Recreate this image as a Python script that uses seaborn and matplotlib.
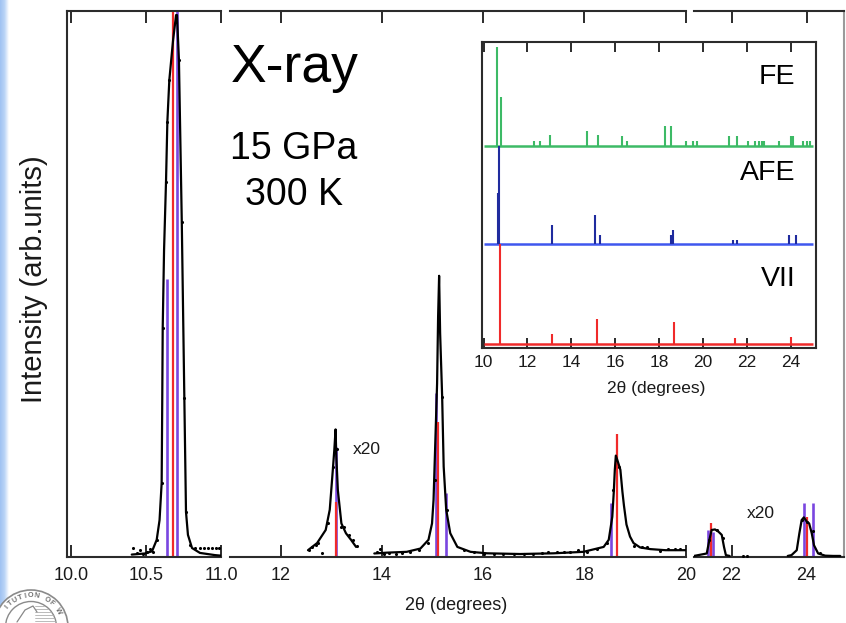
import matplotlib
matplotlib.use("Agg")
import matplotlib.pyplot as plt
import numpy as np
import pandas as pd
import seaborn as sns
from matplotlib.patches import Circle

# ---------------- measured pattern (main broken axis), intensity in arb. units ----------------
# fitted profile, one list pair per continuous segment
P1_FIT_X = [10.406, 10.494, 10.541, 10.572, 10.591, 10.605, 10.609, 10.612, 10.621, 10.634,
            10.643, 10.656, 10.681, 10.701, 10.707, 10.720, 10.739, 10.756, 10.767, 10.780,
            10.807, 10.860, 10.960, 11.0]
P1_FIT_Y = [0.5, 0.7, 1.1, 3.2, 6.8, 13.6, 28.8, 41.9, 56.2, 68.7,
            79.7, 87.3, 94.6, 99.2, 99.2, 91.0, 61.3, 29.1, 8.3, 4.1,
            1.7, 0.8, 0.4, 0.3]

P2A_FIT_X = [12.54, 12.72, 12.89, 12.97, 13.02, 13.06, 13.085, 13.10, 13.13, 13.20, 13.29, 13.39, 13.49]
P2A_FIT_Y = [1.3, 2.6, 5.0, 8.7, 14.7, 19.6, 23.4, 18.4, 12.3, 6.2, 4.4, 3.2, 1.9]

P2B_FIT_X = [13.85, 14.10, 14.49, 14.76, 14.92, 14.99, 15.02, 15.05, 15.09, 15.11, 15.13, 15.15,
             15.19, 15.22, 15.27, 15.35, 15.49, 15.75, 16.08, 16.73, 17.39, 17.98, 18.38, 18.48,
             18.55, 18.58, 18.60, 18.62, 18.66, 18.71, 18.75, 18.78, 18.83, 18.90, 18.97, 19.10,
             19.30, 19.60, 20.0]
P2B_FIT_Y = [0.7, 0.85, 1.0, 1.6, 3.2, 6.2, 10.5, 19.6, 31.8, 44.0, 51.5, 41.0,
             29.4, 16.6, 8.7, 4.4, 1.9, 1.0, 0.73, 0.6, 0.73, 1.0, 1.9, 3.2,
             7.4, 12.0, 16.0, 18.6, 17.5, 16.0, 12.0, 9.5, 6.0, 3.8, 2.6, 1.8,
             1.5, 1.3, 1.3]

P3A_FIT_X = [21.0, 21.34, 21.41, 21.47, 21.56, 21.65, 21.74, 21.80, 21.85, 21.95]
P3A_FIT_Y = [0.25, 0.7, 3.2, 5.0, 5.1, 4.7, 4.1, 1.9, 0.4, 0.25]

P3B_FIT_X = [23.5, 23.6, 23.74, 23.81, 23.87, 23.93, 24.01, 24.07, 24.14, 24.20, 24.31, 24.5, 24.71, 24.9]
P3B_FIT_Y = [0.25, 0.4, 1.3, 4.4, 6.8, 7.3, 6.5, 6.2, 4.4, 2.2, 0.7, 0.3, 0.25, 0.25]

# measured points
DOT_X = [10.415, 10.439, 10.461, 10.481, 10.508, 10.528, 10.548, 10.574,
         10.605, 10.612, 10.634, 10.643, 10.656, 10.700, 10.720, 10.739, 10.756, 10.767,
         10.794, 10.827, 10.860, 10.887, 10.913, 10.940, 10.967, 10.987,
         12.56, 12.62, 12.69, 12.74, 12.82, 12.93, 13.03, 13.11, 13.19, 13.26, 13.35, 13.43, 13.50,
         13.91, 13.97, 14.04, 14.14, 14.27, 14.40, 14.56, 14.73, 14.92, 15.04, 15.19, 15.29,
         15.62, 15.81, 16.01, 16.21, 16.40, 16.60, 16.80, 16.99, 17.16, 17.29, 17.46, 17.59,
         17.72, 17.88, 18.05, 18.25, 18.45, 18.56, 18.69, 18.97, 19.13, 19.23, 19.49, 19.66,
         19.79, 19.88,
         21.41, 21.61, 21.76, 22.30, 22.40, 23.87, 24.01, 24.16, 24.35]
DOT_Y = [1.65, 0.8, 1.3, 0.6, 1.0, 1.5, 1.0, 3.2,
         13.6, 41.9, 68.7, 79.7, 87.3, 98.0, 91.0, 61.3, 29.1, 8.3,
         2.25, 1.65, 1.65, 1.65, 1.65, 1.65, 1.65, 1.65,
         1.34, 1.94, 2.25, 2.67, 0.73, 6.2, 16.6, 19.9, 5.6, 5.5, 4.1, 3.2, 2.1,
         1.0, 1.6, 0.6, 0.7, 0.6, 0.73, 1.0, 1.3, 2.6, 14.1, 29.4, 8.7,
         1.34, 1.0, 0.6, 0.6, 0.6, 0.6, 0.6, 0.6, 0.73, 1.0, 1.0, 1.0,
         1.0, 1.34, 1.0, 1.6, 2.6, 12.3, 16.6, 2.0, 1.9, 1.9, 1.2, 1.5,
         1.5, 1.5,
         3.2, 5.0, 3.5, 0.3, 0.3, 6.8, 6.5, 4.8, 0.7]

# calculated reflections drawn over the pattern
VII_POS = [10.679, 13.09, 15.10, 18.64, 21.45, 24.01]
VII_H = [100, 10.2, 24.8, 22.5, 6.3, 7.4]
AFE_POS = [10.639, 10.709, 13.10, 15.06, 15.26, 18.53, 21.38, 21.50, 23.93, 24.18]
AFE_H = [51, 100, 20.2, 30.0, 11.7, 9.9, 5.0, 4.7, 9.9, 9.9]

# ---------------- inset: calculated stick patterns ----------------
INSET_FE_POS = [10.60, 10.78, 12.30, 12.58, 13.03, 14.73, 15.20, 16.33, 16.53, 18.27, 18.53,
                19.23, 19.56, 19.75, 21.20, 21.54, 22.04, 22.37, 22.53, 22.68, 22.79, 23.48,
                24.02, 24.09, 24.58, 24.73, 24.88]
INSET_FE_H = [99, 49, 5, 5, 11, 15, 11, 10, 5, 20, 20,
              5, 5, 5, 10, 10, 5, 5, 5, 5, 5, 5,
              10, 10, 5, 5, 5]
INSET_AFE_POS = [10.66, 10.70, 13.14, 15.10, 15.30, 18.53, 18.65, 21.39, 21.54, 23.94, 24.23]
INSET_AFE_H = [51, 98, 19, 29, 9, 9, 14, 4, 4, 9, 9]
INSET_VII_POS = [10.74, 13.11, 15.16, 18.68, 21.46, 24.02]
INSET_VII_H = [100, 9.7, 24.7, 21.7, 6.3, 7.3]

PHASES = ["FE", "AFE", "VII"]
INSET_TICKS = [10, 12, 14, 16, 18, 20, 22, 24]

PANEL_TICKS = [[10.0, 10.5, 11.0], [12, 14, 16, 18, 20], [22, 24]]
PANEL_TICK_LABELS = [["10.0", "10.5", "11.0"], ["12", "14", "16", "18", "20"], ["22", "24"]]

# ---------------- styling ----------------
sns.set_theme(style="white")
plt.rcParams["font.family"] = ["Liberation Sans", "DejaVu Sans"]

W, H = 846, 623
INK = "#2b2b2b"
RED = "#f02a2a"
VIOLET = "#7a46e0"
GREEN = "#3dba66"
BLUE_LINE = "#3f57ee"
BLUE_STICK = "#1f2b9e"


def box(l, t, r, b):
    return [l / W, 1 - b / H, (r - l) / W, (b - t) / H]


def fx(px):
    return px / W


def fy(py):
    return 1 - py / H


fig = plt.figure(figsize=(W / 100, H / 100), dpi=100)
fig.patch.set_facecolor("white")

# background layer: light-blue edge strip and seal
bg = fig.add_axes([0, 0, 1, 1], zorder=-5)
bg.set_xlim(0, W)
bg.set_ylim(H, 0)
bg.axis("off")
strip = np.linspace(0, 1, 64)[None, :]
cmap = matplotlib.colors.LinearSegmentedColormap.from_list(
    "edge", ["#9fc2f2", "#b9d3f6", "#ffffff"])
bg.imshow(strip, extent=[0, 9, H, 0], cmap=cmap, aspect="auto", interpolation="bilinear")

cx, cy = 31, 627
bg.add_patch(Circle((cx, cy), 37, facecolor="white", edgecolor="#8a8a8a", lw=1.2, zorder=3))
bg.add_patch(Circle((cx, cy), 25.5, facecolor="white", edgecolor="#8a8a8a", lw=1.0, zorder=3))
for yy in np.arange(606, 626, 3):
    half = np.sqrt(max(25.5 ** 2 - (yy - cy) ** 2, 0))
    bg.plot([cx + 4, cx + half - 1], [yy, yy], color="#b0b0b0", lw=0.6, zorder=4)
bg.plot([cx - 14, cx - 6, cx + 2, cx + 6], [622, 610, 606, 612], color="#888888", lw=0.9, zorder=4)
seal = "CARNEGIE INSTITUTION OF WASHINGTON"
start = seal.index("ITUTION")
for i, ch in enumerate(seal):
    ang = 140 - (i - start) * 10.0
    if not (25 < ang < 145):
        continue
    r = 31.2
    xx = cx + r * np.cos(np.radians(ang))
    yy = cy - r * np.sin(np.radians(ang))
    bg.text(xx, yy, ch, rotation=ang - 90, ha="center", va="center", fontsize=5.2,
            color="#6f6f6f", fontweight="bold", zorder=5)

# ---------------- main broken-axis pattern ----------------
fit_segments = [(P1_FIT_X, P1_FIT_Y), (P2A_FIT_X, P2A_FIT_Y), (P2B_FIT_X, P2B_FIT_Y),
                (P3A_FIT_X, P3A_FIT_Y), (P3B_FIT_X, P3B_FIT_Y)]
dots = pd.DataFrame({"two_theta": DOT_X, "intensity": DOT_Y})
vii = pd.DataFrame({"pos": VII_POS, "h": VII_H})
afe = pd.DataFrame({"pos": AFE_POS, "h": AFE_H})

panels = [
    dict(rect=box(67, 10.7, 221, 557.3), xlim=(9.975, 11.0), spines=("left", "top", "bottom")),
    dict(rect=box(230, 10.7, 685.7, 557.3), xlim=(11.0, 20.0), spines=("top", "bottom")),
    dict(rect=box(694, 10.7, 844, 557.3), xlim=(21.0, 25.0), spines=("top", "bottom", "right")),
]

for k, p in enumerate(panels):
    ax = fig.add_axes(p["rect"])
    lo, hi = p["xlim"]
    ax.set_xlim(lo, hi)
    ax.set_ylim(0, 100)
    for name, sp in ax.spines.items():
        sp.set_visible(name in p["spines"])
        sp.set_color(INK)
        sp.set_linewidth(1.5)
    if k == 2:
        ax.spines["right"].set_color("#9a9a9a")

    sel = afe[(afe.pos > lo) & (afe.pos < hi)]
    ax.vlines(sel.pos, 0, sel.h, color=VIOLET, lw=1.9, zorder=2)
    sel = vii[(vii.pos > lo) & (vii.pos < hi)]
    ax.vlines(sel.pos, 0, sel.h, color=RED, lw=1.6, zorder=2.5)

    for sx, sy in fit_segments:
        if lo <= sx[0] <= hi:
            sns.lineplot(x=sx, y=sy, ax=ax, color="black", lw=1.6, sort=False,
                         estimator=None, zorder=3)
    sub = dots[(dots.two_theta > lo) & (dots.two_theta < hi)]
    sns.scatterplot(data=sub, x="two_theta", y="intensity", ax=ax, color="black",
                    s=5, linewidth=0, zorder=4)

    ax.set_xticks(PANEL_TICKS[k])
    ax.set_xticklabels(PANEL_TICK_LABELS[k])
    ax.set_yticks([])
    ax.tick_params(axis="x", direction="in", length=8.5, width=1.4, color=INK,
                   top=True, bottom=True, labelsize=13, pad=7, labelcolor="#1a1a1a")
    ax.set_xlabel("")
    ax.set_ylabel("")
    ax.patch.set_alpha(0)

fig.text(fx(456), fy(605), "2θ (degrees)", ha="center", va="center", fontsize=13, color="#1a1a1a")
fig.text(fx(34), fy(279), "Intensity (arb.units)", rotation=90, ha="center", va="center",
         fontsize=21, color="#1a1a1a")

fig.text(fx(231), fy(82), "X-ray", ha="left", va="baseline", fontsize=38.5, color="black")
fig.text(fx(294), fy(159), "15 GPa", ha="center", va="baseline", fontsize=27, color="black")
fig.text(fx(294), fy(205), "300 K", ha="center", va="baseline", fontsize=27, color="black")
fig.text(fx(353), fy(449), "x20", ha="left", va="center", fontsize=12.5, color="#1a1a1a")
fig.text(fx(747), fy(513), "x20", ha="left", va="center", fontsize=12.5, color="#1a1a1a")

# ---------------- inset: stick patterns of the three phases ----------------
ins = fig.add_axes(box(482, 42.3, 816, 347.5), zorder=10)
ins.set_facecolor("white")
ins.set_xlim(9.93, 25.15)
ins.set_ylim(-3.5, 301.7)
offsets = {"VII": 0, "AFE": 100, "FE": 198}
sticks = {"FE": (INSET_FE_POS, INSET_FE_H, GREEN, GREEN),
          "AFE": (INSET_AFE_POS, INSET_AFE_H, BLUE_STICK, BLUE_LINE),
          "VII": (INSET_VII_POS, INSET_VII_H, RED, RED)}
for phase in PHASES:
    pos, hts, c_stick, c_base = sticks[phase]
    base = offsets[phase]
    ins.hlines(base, 10.0, 25.0, color=c_base, lw=1.8, zorder=2)
    ins.vlines(pos, base, np.asarray(hts) + base, color=c_stick, lw=1.5, zorder=3)

label_y = {"FE": 267, "AFE": 170.5, "VII": 65}
for phase in PHASES:
    ins.text(24.2, label_y[phase], phase, ha="right", va="center", fontsize=20.5, color="black")

for sp in ins.spines.values():
    sp.set_color(INK)
    sp.set_linewidth(1.5)
    sp.set_visible(True)
ins.set_xticks(INSET_TICKS)
ins.set_xticklabels([str(t) for t in INSET_TICKS])
ins.set_yticks([])
ins.tick_params(axis="x", direction="in", length=7, width=1.4, color=INK, top=True,
                bottom=True, labelsize=12.5, pad=5.5, labelcolor="#1a1a1a")
fig.text(fx(656), fy(388), "2θ (degrees)", ha="center", va="center", fontsize=12.5,
         color="#1a1a1a", zorder=11)

fig.savefig("out.png", dpi=100, facecolor="white")
